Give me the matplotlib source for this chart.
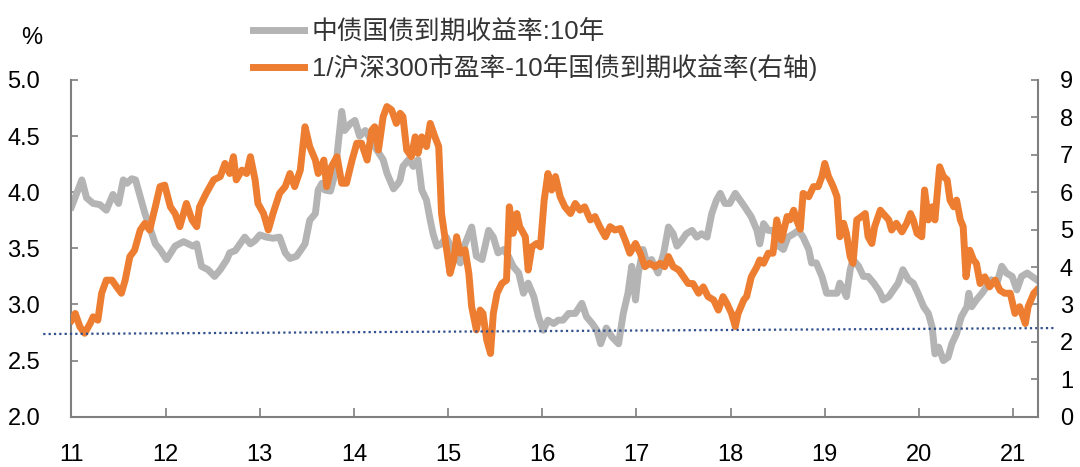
import matplotlib
matplotlib.use('Agg')
import matplotlib.pyplot as plt

plt.rcParams['font.family'] = ['Liberation Sans', 'Noto Sans CJK SC']

# 中债国债到期收益率:10年 (left axis, %)
grey_t = [11.00, 11.11, 11.16, 11.23, 11.30, 11.37, 11.44, 11.50, 11.55, 11.59,
          11.64, 11.68, 11.73, 11.78, 11.83, 11.89, 11.94, 12.01, 12.10, 12.19,
          12.29, 12.33, 12.38, 12.45, 12.52, 12.58, 12.65,
          12.68, 12.74, 12.79, 12.84, 12.90, 12.95, 13.00, 13.07, 13.14, 13.21,
          13.27, 13.32, 13.39, 13.44, 13.48, 13.53, 13.59, 13.62, 13.66, 13.69,
          13.75, 13.80, 13.83, 13.87, 13.90, 13.96, 14.01, 14.06, 14.12, 14.17,
          14.24, 14.31, 14.35, 14.42, 14.47,
          14.49, 14.52, 14.58, 14.63, 14.68, 14.72, 14.77, 14.81, 14.84, 14.88,
          14.93, 14.98, 15.06, 15.13, 15.18, 15.25, 15.30, 15.36, 15.43, 15.48,
          15.53, 15.59, 15.64, 15.69, 15.75, 15.80, 15.85, 15.91, 15.96, 16.01,
          16.06, 16.12, 16.17, 16.22, 16.28,
          16.30, 16.35, 16.42, 16.47, 16.53, 16.58, 16.62, 16.68, 16.74, 16.81,
          16.86, 16.91, 16.95, 16.99, 17.02, 17.07, 17.11, 17.16, 17.23, 17.29,
          17.34, 17.39, 17.43, 17.48, 17.53, 17.59, 17.64, 17.69, 17.75, 17.80,
          17.85, 17.89, 17.94, 17.99, 18.05,
          18.10, 18.15, 18.22, 18.28, 18.31, 18.35, 18.40, 18.45, 18.51, 18.56,
          18.61, 18.67, 18.72, 18.77, 18.83, 18.86, 18.91, 18.97, 19.02, 19.07,
          19.13, 19.16, 19.20, 19.23, 19.27, 19.30, 19.36, 19.41, 19.46, 19.52,
          19.57,
          19.59, 19.62, 19.68, 19.73, 19.78, 19.83, 19.89, 19.94, 19.99, 20.05,
          20.10, 20.14, 20.17, 20.21, 20.26, 20.31, 20.35, 20.40, 20.45, 20.51,
          20.53, 20.56, 20.61, 20.67, 20.72, 20.77, 20.83, 20.88, 20.93, 20.99,
          21.04, 21.09, 21.15, 21.20, 21.25]
grey_v = [3.87, 4.11, 3.95, 3.90, 3.89, 3.84, 3.98, 3.90, 4.11, 4.08,
          4.12, 4.11, 3.96, 3.81, 3.69, 3.54, 3.49, 3.40, 3.52, 3.56,
          3.52, 3.54, 3.34, 3.31, 3.25, 3.31, 3.40,
          3.46, 3.48, 3.54, 3.60, 3.54, 3.57, 3.62, 3.60, 3.59, 3.60,
          3.46, 3.41, 3.43, 3.49, 3.54, 3.75, 3.81, 4.02, 4.08, 4.02,
          4.01, 4.17, 4.41, 4.72, 4.55, 4.61, 4.64, 4.50, 4.55, 4.48,
          4.38, 4.29, 4.17, 4.03, 4.08,
          4.11, 4.23, 4.29, 4.23, 4.29, 4.02, 3.93, 3.75, 3.63, 3.52,
          3.54, 3.60, 3.46, 3.37, 3.54, 3.69, 3.43, 3.40, 3.66, 3.60,
          3.46, 3.49, 3.43, 3.34, 3.28, 3.10, 3.19, 3.07, 2.89, 2.77,
          2.86, 2.83, 2.86, 2.86, 2.92,
          2.92, 2.92, 3.01, 2.89, 2.83, 2.77, 2.65, 2.79, 2.71, 2.65,
          2.92, 3.10, 3.34, 3.04, 3.28, 3.49, 3.37, 3.40, 3.28, 3.46,
          3.69, 3.63, 3.52, 3.57, 3.63, 3.66, 3.60, 3.63, 3.60, 3.81,
          3.93, 3.99, 3.90, 3.90, 3.99,
          3.93, 3.87, 3.78, 3.66, 3.54, 3.72, 3.66, 3.66, 3.52, 3.49,
          3.60, 3.63, 3.66, 3.60, 3.49, 3.37, 3.37, 3.25, 3.10, 3.10,
          3.10, 3.19, 3.13, 3.07, 3.31, 3.40, 3.34, 3.25, 3.25, 3.19,
          3.13,
          3.10, 3.04, 3.07, 3.13, 3.19, 3.31, 3.22, 3.19, 3.10, 2.98,
          2.92, 2.80, 2.56, 2.62, 2.50, 2.53, 2.65, 2.74, 2.89, 2.98,
          3.10, 2.98, 3.04, 3.10, 3.16, 3.22, 3.19, 3.34, 3.28, 3.25,
          3.13, 3.25, 3.28, 3.25, 3.22]

# 1/沪深300市盈率-10年国债到期收益率 (right axis)
orange_t = [11.00, 11.04, 11.09, 11.14, 11.20, 11.23, 11.28, 11.32, 11.37, 11.43,
            11.48, 11.53, 11.57, 11.62, 11.67, 11.73, 11.78, 11.83, 11.89, 11.94,
            11.99, 12.05, 12.10, 12.15, 12.22, 12.28, 12.33, 12.36, 12.43, 12.51,
            12.58, 12.63,
            12.68, 12.72, 12.75, 12.81, 12.86, 12.90, 12.95, 12.98, 13.04, 13.09,
            13.14, 13.21, 13.27, 13.32, 13.37, 13.43, 13.48, 13.53, 13.59, 13.62,
            13.68, 13.71, 13.76, 13.82, 13.87, 13.92, 13.98, 14.03, 14.08, 14.14,
            14.19, 14.22, 14.26, 14.31, 14.35, 14.40, 14.45,
            14.49, 14.52, 14.56, 14.61, 14.65, 14.68, 14.72, 14.77, 14.81, 14.86,
            14.90, 14.93, 14.97, 15.02, 15.06, 15.09, 15.13, 15.18, 15.22, 15.25,
            15.30, 15.34, 15.37, 15.41, 15.45, 15.48, 15.52, 15.57, 15.62, 15.65,
            15.69, 15.73, 15.76, 15.82, 15.85, 15.89, 15.94, 15.98, 16.02, 16.06,
            16.10, 16.14, 16.19, 16.24, 16.30,
            16.35, 16.40, 16.45, 16.51, 16.56, 16.61, 16.67, 16.72, 16.77, 16.83,
            16.88, 16.93, 16.99, 17.04, 17.09, 17.14, 17.20, 17.25, 17.30, 17.34,
            17.39, 17.45, 17.50, 17.55, 17.60, 17.66, 17.71, 17.76, 17.82, 17.87,
            17.92, 17.96, 18.01, 18.05, 18.08,
            18.14, 18.17, 18.22, 18.28, 18.31, 18.35, 18.40, 18.45, 18.49, 18.54,
            18.60, 18.63, 18.67, 18.70, 18.74, 18.77, 18.83, 18.88, 18.93, 18.97,
            19.00, 19.04, 19.09, 19.13, 19.16, 19.20, 19.23, 19.27, 19.30, 19.34,
            19.39, 19.43, 19.46, 19.50, 19.53, 19.59,
            19.62, 19.68, 19.71, 19.76, 19.82, 19.87, 19.91, 19.94, 19.98, 20.03,
            20.06, 20.10, 20.14, 20.17, 20.22, 20.26, 20.30, 20.33, 20.37, 20.40,
            20.44, 20.47, 20.50, 20.54, 20.58, 20.61, 20.65, 20.70, 20.75, 20.81,
            20.86, 20.91, 20.97, 21.02, 21.07, 21.13, 21.16, 21.22, 21.25]
orange_v = [2.58, 2.76, 2.40, 2.23, 2.50, 2.67, 2.58, 3.30, 3.65, 3.65,
            3.47, 3.30, 3.65, 4.28, 4.45, 4.99, 5.17, 4.99, 5.61, 6.15,
            6.19, 5.61, 5.43, 5.08, 5.70, 5.26, 5.08, 5.61, 5.97, 6.33,
            6.42, 6.77,
            6.50, 6.95, 6.33, 6.59, 6.50, 6.95, 6.33, 5.70, 5.43, 4.99,
            5.43, 5.97, 6.15, 6.50, 6.15, 6.59, 7.75, 7.22, 6.86, 6.50,
            6.86, 6.15, 6.68, 6.95, 6.24, 6.24, 6.86, 7.31, 7.31, 6.86,
            7.66, 7.75, 7.13, 8.02, 8.29, 8.20, 7.84,
            8.11, 8.02, 7.13, 6.95, 7.48, 7.04, 7.48, 7.22, 7.84, 7.48,
            7.22, 5.43, 4.72, 3.83, 4.19, 4.81, 4.37, 4.46, 3.83, 2.94,
            2.32, 2.85, 2.76, 2.05, 1.69, 2.76, 3.30, 3.56, 3.65, 5.61,
            4.90, 5.43, 5.08, 4.81, 3.92, 4.54, 4.63, 4.54, 5.79, 6.50,
            6.06, 6.42, 5.88, 5.61, 5.43,
            5.70, 5.52, 5.61, 5.26, 5.35, 5.08, 4.81, 5.08, 4.99, 5.03,
            4.72, 4.37, 4.63, 4.37, 4.01, 4.10, 4.01, 4.10, 4.01, 4.28,
            4.01, 3.92, 3.74, 3.56, 3.56, 3.30, 3.47, 3.21, 3.12, 2.85,
            3.21, 3.03, 2.76, 2.41, 2.76,
            3.12, 3.21, 3.74, 4.01, 4.19, 4.10, 4.37, 4.37, 5.26, 4.72,
            5.35, 5.26, 5.52, 5.26, 5.01, 5.97, 5.88, 6.15, 6.15, 6.42,
            6.77, 6.42, 6.15, 5.88, 4.81, 5.17, 4.90, 4.28, 4.10, 5.26,
            5.35, 5.43, 4.81, 4.63, 5.08, 5.52,
            5.43, 5.26, 4.99, 5.17, 4.94, 5.17, 5.43, 5.26, 4.90, 4.81,
            6.06, 5.26, 5.61, 5.26, 6.68, 6.42, 6.33, 5.79, 5.61, 5.79,
            5.26, 5.08, 3.74, 4.45, 4.19, 4.10, 3.56, 3.74, 3.47, 3.65,
            3.38, 3.30, 3.30, 2.76, 2.94, 2.49, 2.94, 3.30, 3.38]

# dotted reference line (right axis units)
trend_t = [10.70, 21.46]
trend_v = [2.21, 2.37]

years = list(range(11, 22))
left_ticks = [2.0, 2.5, 3.0, 3.5, 4.0, 4.5, 5.0]
right_ticks = list(range(0, 10))
label_grey = '中债国债到期收益率:10年'
label_orange = '1/沪深300市盈率-10年国债到期收益率(右轴)'

axis_grey = '#7F7F7F'

fig = plt.figure(figsize=(10.8, 4.67), dpi=100)
ax = fig.add_axes([0.0662, 0.1077, 0.8945, 0.7210])
ax2 = ax.twinx()

l1, = ax.plot(grey_t, grey_v, color='#B4B4B4', lw=5, solid_joinstyle='round')
l2, = ax2.plot(orange_t, orange_v, color='#ED7D31', lw=5, solid_joinstyle='round')
ax2.plot(trend_t, trend_v, color='#2F4F8F', lw=1.6, ls=(0, (1, 1.4)), clip_on=False)

ax.set_xlim(11, 21.26)
ax.set_ylim(2, 5)
ax2.set_ylim(0, 9)
ax.set_xticks(years)
ax.set_xticklabels([str(y) for y in years])
ax.set_yticks(left_ticks)
ax.set_yticklabels(['%.1f' % v for v in left_ticks])
ax2.set_yticks(right_ticks)

for a in (ax, ax2):
    a.spines['top'].set_visible(False)
    for s in a.spines.values():
        s.set_color(axis_grey)
        s.set_linewidth(1.5)
ax.spines['right'].set_visible(False)
ax2.spines['left'].set_visible(False)
ax2.spines['bottom'].set_visible(False)

ax.tick_params(axis='x', direction='in', length=6.5, width=1.2, color=axis_grey,
               pad=20, labelsize=17)
ax.tick_params(axis='y', direction='in', length=5, width=1.2, color=axis_grey,
               pad=22.5, labelsize=17)
ax2.tick_params(axis='y', direction='in', length=5, width=1.2, color=axis_grey,
                pad=16, labelsize=17)

fig.text(32 / 1080, 1 - 38 / 467, '%', ha='center', va='center', fontsize=17)

fig.legend([l1, l2], [label_grey, label_orange], loc='upper left',
           bbox_to_anchor=(253 / 1080, 1 - 20 / 467), frameon=False, fontsize=18.5,
           handlelength=2.0, handletextpad=0.28, labelspacing=0.36, borderpad=0,
           borderaxespad=0, labelcolor='#333333')

fig.savefig('out.png', dpi=100)
